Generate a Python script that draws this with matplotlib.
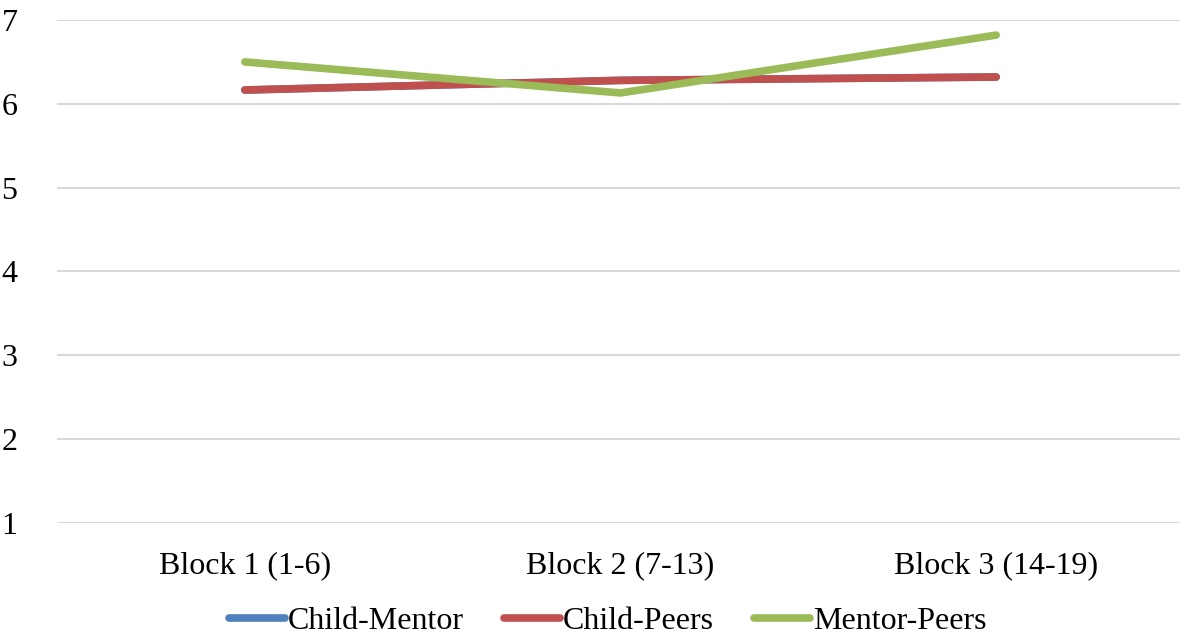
import matplotlib
matplotlib.use("Agg")
import matplotlib.pyplot as plt

categories = ["Block 1 (1-6)", "Block 2 (7-13)", "Block 3 (14-19)"]
child_mentor = [6.165, 6.28, 6.32]
child_peers = [6.165, 6.28, 6.32]
mentor_peers = [6.50, 6.13, 6.82]
yticks = [1, 2, 3, 4, 5, 6, 7]

plt.rcParams['font.family'] = ['Liberation Serif', 'DejaVu Serif']

fig = plt.figure(figsize=(11.8, 6.36), dpi=100)
ax = fig.add_axes([57/1180, 1 - 523/636, (1184 - 57)/1180, (523 - 20)/636])

x = list(range(len(categories)))
series = [("Child-Mentor", child_mentor, "#4F81BD"),
          ("Child-Peers", child_peers, "#C0504D"),
          ("Mentor-Peers", mentor_peers, "#9BBB59")]
for name, vals, col in series:
    ax.plot(x, vals, color=col, lw=5.5, solid_capstyle='round', solid_joinstyle='round', label=name)

ax.set_xlim(-0.5, 2.5)
ax.set_ylim(1, 7)
ax.set_yticks(yticks)
ax.set_xticks(x)
ax.set_xticklabels(categories)
ax.tick_params(axis='both', length=0, labelsize=23, colors='black')
ax.tick_params(axis='y', pad=40)
ax.tick_params(axis='x', pad=20)
for s in ['top', 'right', 'left', 'bottom']:
    ax.spines[s].set_visible(False)
ax.yaxis.grid(True, color='#D9D9D9', lw=1.5)
ax.set_axisbelow(True)
for lab in ax.get_yticklabels():
    lab.set_horizontalalignment('left')

leg = fig.legend(loc='lower center', bbox_to_anchor=(0.515, -0.045), ncol=3, frameon=False,
                 fontsize=23, handlelength=1.75, handletextpad=0.1, columnspacing=1.25)
fig.savefig("out.png", dpi=100)
